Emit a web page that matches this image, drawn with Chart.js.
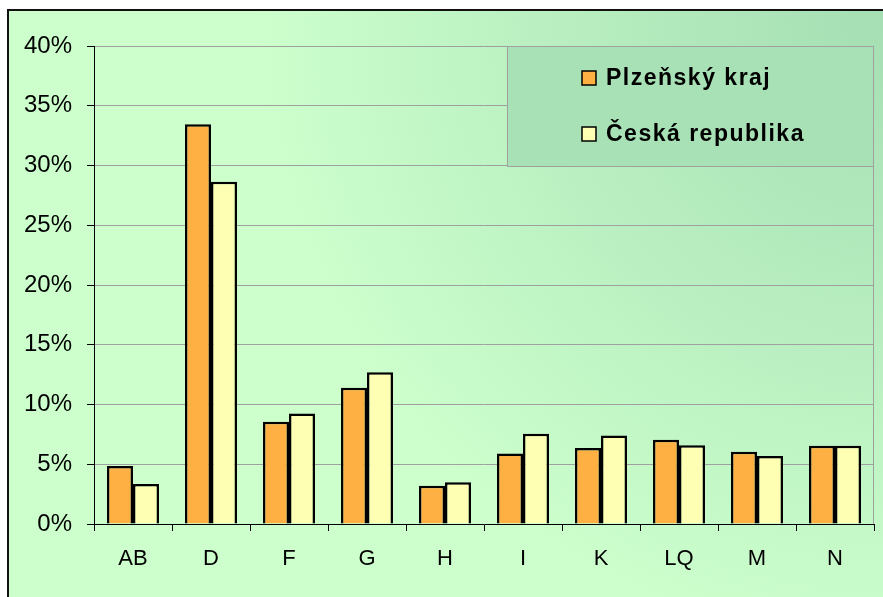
<!DOCTYPE html>
<html>
<head>
<meta charset="utf-8">
<script src="https://cdn.jsdelivr.net/npm/chart.js@4"></script>
<style>
  html, body { margin: 0; padding: 0; background: #fff; }
  #frame {
    position: absolute; left: 7px; top: 9px; width: 890px; height: 600px;
    border-top: 2px solid #111; border-left: 2px solid #111;
    background: radial-gradient(circle at 100% 0%, #a4deb2 0px, #b8eec0 330px, #ccffcc 640px);
  }
  #wrap { position: absolute; left: 0; top: 0; width: 883px; height: 597px; }
</style>
</head>
<body>
<div id="frame"></div>
<div id="wrap"><canvas id="c" width="883" height="597"></canvas></div>
<script>
const categories = ['AB', 'D', 'F', 'G', 'H', 'I', 'K', 'LQ', 'M', 'N'];
const plzenskyKraj = [4.85, 33.45, 8.55, 11.4, 3.2, 5.9, 6.35, 7.05, 6.05, 6.55];
const ceskaRepublika = [3.35, 28.65, 9.25, 12.7, 3.5, 7.55, 7.4, 6.6, 5.7, 6.55];
const yTicks = [0, 5, 10, 15, 20, 25, 30, 35, 40];

// legend box drawn inside plot area, top right
const legendBox = {
  id: 'legendBox',
  afterDraw(chart) {
    const { ctx, chartArea } = chart;
    const x = 507, y = chartArea.top, w = chartArea.right - 507, h = 121;
    ctx.save();
    ctx.fillStyle = '#a8e1b5';
    ctx.fillRect(x, y, w, h);
    ctx.strokeStyle = '#a0a0a0';
    ctx.lineWidth = 1;
    ctx.strokeRect(x + 0.5, y + 0.5, w - 1, h - 1);
    ctx.font = 'bold 23px "Liberation Sans", Arial, sans-serif';
    ctx.textBaseline = 'middle';
    chart.data.datasets.forEach((ds, i) => {
      const cy = y + 32 + i * 56;
      ctx.fillStyle = ds.backgroundColor;
      ctx.fillRect(582, cy - 7, 14, 14);
      ctx.strokeStyle = '#000';
      ctx.lineWidth = 1.5;
      ctx.strokeRect(582, cy - 7, 14, 14);
      ctx.fillStyle = '#000';
      ctx.letterSpacing = '1.5px';
      ctx.fillText(ds.label, 606, cy + 1);
      ctx.letterSpacing = '0px';
    });
    ctx.restore();
  }
};

// grey right edge of the plot area
const plotEdge = {
  id: 'plotEdge',
  beforeDatasetsDraw(chart) {
    const { ctx, chartArea } = chart;
    ctx.save();
    ctx.strokeStyle = '#a0a0a0';
    ctx.lineWidth = 1;
    ctx.beginPath();
    ctx.moveTo(chartArea.right - 0.5, chartArea.top);
    ctx.lineTo(chartArea.right - 0.5, chartArea.bottom);
    ctx.stroke();
    ctx.restore();
  }
};

const fontFamily = '"Liberation Sans", Arial, sans-serif';

new Chart(document.getElementById('c'), {
  type: 'bar',
  data: {
    labels: categories,
    datasets: [
      { label: 'Plzeňský kraj', data: plzenskyKraj, backgroundColor: '#ffb042', borderColor: '#000', borderWidth: 2.5 },
      { label: 'Česká republika', data: ceskaRepublika, backgroundColor: '#ffffb3', borderColor: '#000', borderWidth: 2.5 },
    ],
  },
  options: {
    responsive: false,
    animation: false,
    layout: { padding: { top: 46, right: 9, left: 0, bottom: 0 } },
    datasets: { bar: { categoryPercentage: 0.667, barPercentage: 1.0, borderSkipped: 'bottom' } },
    plugins: { legend: { display: false }, tooltip: { enabled: false } },
    scales: {
      x: {
        grid: { offset: true, drawOnChartArea: false, tickLength: 7, tickColor: '#000' },
        border: { color: '#000', width: 1 },
        ticks: { color: '#000', font: { family: fontFamily, size: 22 }, padding: 15, maxRotation: 0 },
        afterFit: s => { s.height = 73; },
      },
      y: {
        min: 0, max: 40,
        afterBuildTicks: s => { s.ticks = yTicks.map(v => ({ value: v })); },
        grid: { color: '#a0a0a0', tickLength: 7, tickColor: '#000' },
        border: { color: '#000', width: 1 },
        ticks: { color: '#000', font: { family: fontFamily, size: 24 }, padding: 15, callback: v => v + '%' },
        afterFit: s => { s.width = 94; },
      },
    },
  },
  plugins: [plotEdge, legendBox],
});
</script>
</body>
</html>
